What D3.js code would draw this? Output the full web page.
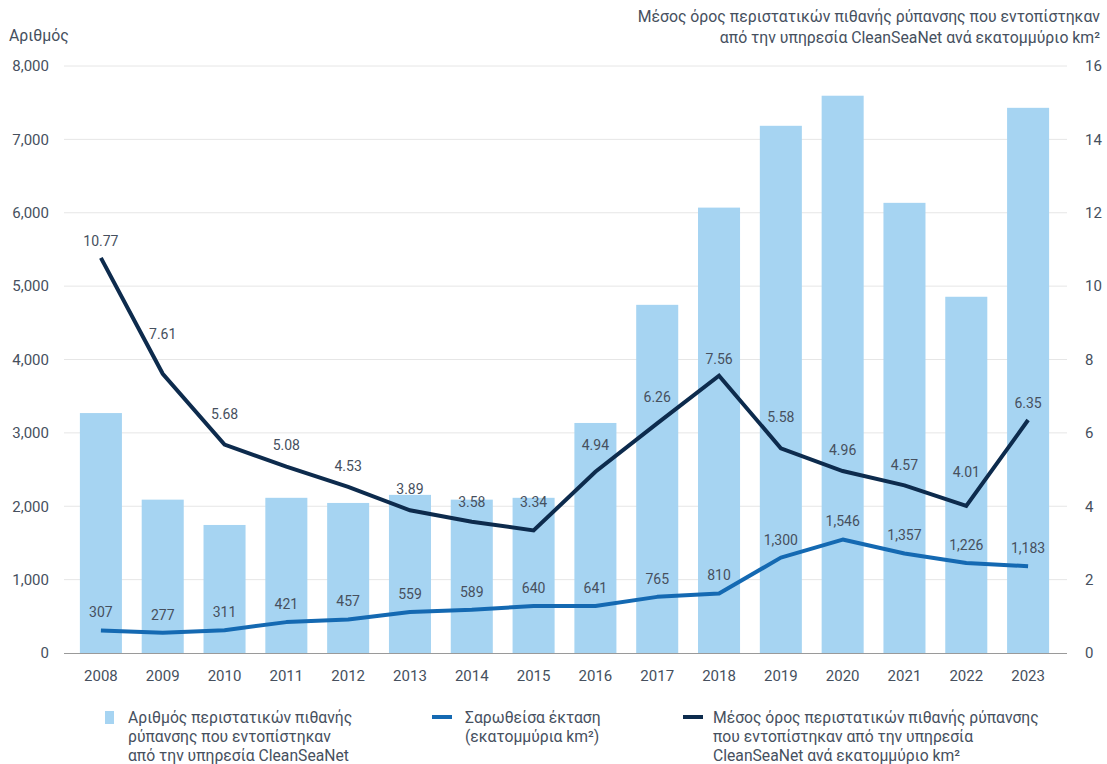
<!DOCTYPE html>
<html>
<head>
<meta charset="utf-8">
<script src="https://cdn.jsdelivr.net/npm/d3@7"></script>
<style>
  body { margin: 0; background: #fff; }
  svg { font-family: Roboto, "Noto Sans", sans-serif; }
</style>
</head>
<body>
<svg id="chart" width="1107" height="764"></svg>
<script>
// data
var years = ["2008","2009","2010","2011","2012","2013","2014","2015","2016","2017","2018","2019","2020","2021","2022","2023"];
var incidents = [3270, 2090, 1745, 2115, 2045, 2155, 2090, 2115, 3135, 4745, 6070, 7185, 7595, 6135, 4855, 7430];
var area = [307, 277, 311, 421, 457, 559, 589, 640, 641, 765, 810, 1300, 1546, 1357, 1226, 1183];
var perMillion = [10.77, 7.61, 5.68, 5.08, 4.53, 3.89, 3.58, 3.34, 4.94, 6.26, 7.56, 5.58, 4.96, 4.57, 4.01, 6.35];
var leftTicks = [0, 1000, 2000, 3000, 4000, 5000, 6000, 7000, 8000];
var rightTicks = [0, 2, 4, 6, 8, 10, 12, 14, 16];
var leftTitle = "Αριθμός";
var rightTitle = ["Μέσος όρος περιστατικών πιθανής ρύπανσης που εντοπίστηκαν",
                  "από την υπηρεσία CleanSeaNet ανά εκατομμύριο km²"];
var legendItems = [
  ["Αριθμός περιστατικών πιθανής", "ρύπανσης που εντοπίστηκαν", "από την υπηρεσία CleanSeaNet"],
  ["Σαρωθείσα έκταση", "(εκατομμύρια km²)"],
  ["Μέσος όρος περιστατικών πιθανής ρύπανσης", "που εντοπίστηκαν από την υπηρεσία", "CleanSeaNet ανά εκατομμύριο km²"]
];

var barColor = "#a6d4f2", areaColor = "#1469b2", avgColor = "#0d2b4d";
var textColor = "#46505e";

var svg = d3.select("#chart");
var gridLeft = 64, gridRight = 1067, plotTop = 66, plotBottom = 653;

var x = d3.scaleBand().domain(years).range([70, 1059]).paddingInner(0.32).paddingOuter(0.16);
var yL = d3.scaleLinear().domain([0, 8000]).range([plotBottom, plotTop]);
var yR = d3.scaleLinear().domain([0, 16]).range([plotBottom, plotTop]);

// gridlines
svg.append("g").selectAll("line").data(leftTicks.slice(1)).join("line")
  .attr("x1", gridLeft).attr("x2", gridRight)
  .attr("y1", function(d){ return yL(d); }).attr("y2", function(d){ return yL(d); })
  .attr("stroke", "#e6e6e6").attr("stroke-width", 1);

// left axis
var fmt = d3.format(",");
var axL = svg.append("g").attr("transform", "translate(49,0)")
  .call(d3.axisLeft(yL).tickValues(leftTicks).tickFormat(fmt).tickSize(0).tickPadding(0));
axL.select(".domain").remove();
axL.selectAll("text").attr("fill", textColor).style("font-size", "15px").style("font-family", "Roboto");

var axR = svg.append("g").attr("transform", "translate(1085,0)")
  .call(d3.axisRight(yR).tickValues(rightTicks).tickSize(0).tickPadding(0));
axR.select(".domain").remove();
axR.selectAll("text").attr("fill", textColor).style("font-size", "15px").style("font-family", "Roboto");

// bars
svg.append("g").selectAll("rect").data(incidents).join("rect")
  .attr("x", function(d, i){ return x(years[i]); })
  .attr("width", x.bandwidth())
  .attr("y", function(d){ return yL(d); })
  .attr("height", function(d){ return plotBottom - yL(d); })
  .attr("fill", barColor);

// baseline
svg.append("line").attr("x1", gridLeft).attr("x2", gridRight)
  .attr("y1", plotBottom + 0.5).attr("y2", plotBottom + 0.5)
  .attr("stroke", "#9a9a9a").attr("stroke-width", 1);

// x axis
var axX = svg.append("g").attr("transform", "translate(0," + (plotBottom + 17) + ")")
  .call(d3.axisBottom(x).tickSize(0).tickPadding(0));
axX.select(".domain").remove();
axX.selectAll("text").attr("fill", textColor).style("font-size", "15px").style("font-family", "Roboto");

function cx(i){ return x(years[i]) + x.bandwidth() / 2; }

// lines
var lineArea = d3.line().x(function(d, i){ return cx(i); }).y(function(d){ return yL(d); });
var lineAvg = d3.line().x(function(d, i){ return cx(i); }).y(function(d){ return yR(d); });

svg.append("path").datum(area).attr("d", lineArea)
  .attr("fill", "none").attr("stroke", areaColor).attr("stroke-width", 4).attr("stroke-linejoin", "round");
svg.append("path").datum(perMillion).attr("d", lineAvg)
  .attr("fill", "none").attr("stroke", avgColor).attr("stroke-width", 4).attr("stroke-linejoin", "miter");

// labels for area line
svg.append("g").selectAll("text").data(area).join("text")
  .attr("x", function(d, i){ return cx(i); })
  .attr("y", function(d){ return yL(d) - 18; })
  .attr("text-anchor", "middle").attr("dy", "0.35em")
  .attr("fill", textColor).style("font-size", "14px")
  .text(function(d){ return fmt(d); });

// labels for avg line, lifted clear of the neighbouring segments
var dx = 12;
function lineYAt(i, off) {
  var j = off < 0 ? i - 1 : i + 1;
  if (j < 0 || j >= perMillion.length) return yR(perMillion[i]);
  var y0 = yR(perMillion[i]), y1 = yR(perMillion[j]);
  var step = Math.abs(cx(j) - cx(i));
  return y0 + (y1 - y0) * (Math.abs(off) / step);
}
svg.append("g").selectAll("text").data(perMillion).join("text")
  .attr("x", function(d, i){ return cx(i); })
  .attr("y", function(d, i){
    return Math.min(yR(d), lineYAt(i, -dx), lineYAt(i, dx)) - 17;
  })
  .attr("text-anchor", "middle").attr("dy", "0.35em")
  .attr("fill", textColor).style("font-size", "14px")
  .text(function(d){ return d.toFixed(2); });

// axis titles
svg.append("text").attr("x", 9).attr("y", 41).attr("fill", textColor)
  .style("font-size", "15.8px").text(leftTitle);
svg.append("g").selectAll("text").data(rightTitle).join("text")
  .attr("x", 1100).attr("y", function(d, i){ return 22 + i * 21; })
  .attr("text-anchor", "end").attr("fill", textColor)
  .style("font-size", "15.8px").text(function(d){ return d; });

// legend
var legX = [105, 432, 683];
var leg = svg.append("g");
legendItems.forEach(function(lines, k) {
  var g = leg.append("g").attr("transform", "translate(" + legX[k] + ",0)");
  if (k === 0) {
    g.append("rect").attr("x", 0).attr("y", 711).attr("width", 9).attr("height", 13).attr("fill", barColor);
  } else {
    g.append("line").attr("x1", 0).attr("x2", 20).attr("y1", 717).attr("y2", 717)
      .attr("stroke", k === 1 ? areaColor : avgColor).attr("stroke-width", 4);
  }
  var tx = k === 0 ? 23 : (k === 1 ? 33 : 30);
  g.selectAll("text").data(lines).join("text")
    .attr("x", tx).attr("y", function(d, i){ return 723 + i * 19; })
    .attr("fill", textColor).style("font-size", "15.7px")
    .text(function(d){ return d; });
});
</script>
</body>
</html>
